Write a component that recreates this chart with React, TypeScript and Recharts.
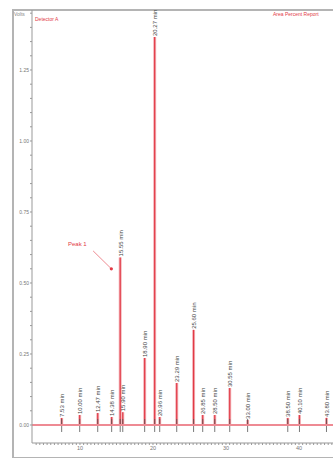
import React from "react";
import {
  ComposedChart,
  Bar,
  XAxis,
  YAxis,
  ReferenceLine,
  ReferenceDot,
  LabelList,
} from "recharts";

// retention time (min) and height (V) of each integrated peak
const peakTimes = [7.53, 10.0, 12.47, 14.38, 15.55, 15.9, 18.9, 20.27, 20.96, 23.29, 25.6, 26.85, 28.5, 30.55, 33.0, 38.5, 40.1, 43.8];
const peakHeights = [0.025, 0.035, 0.042, 0.028, 0.59, 0.045, 0.236, 1.366, 0.028, 0.148, 0.335, 0.035, 0.035, 0.13, 0.018, 0.025, 0.035, 0.025];

const xLabelTicks = [10, 20, 30, 40];
const yLabelTicks = [0, 0.25, 0.5, 0.75, 1.0, 1.25];

const data = peakTimes.map((t, i) => ({
  t,
  v: peakHeights[i],
  label: `${t.toFixed(2)} min`,
}));

const xTicks = Array.from({ length: 86 }, (_, i) => 4 + i * 0.5);
const yTicks = Array.from({ length: 30 }, (_, i) => Math.round(i * 5) / 100);

const RED = "#e23a46";

const PeakShape = (props: any) => {
  const { x, y, width, height } = props;
  const cx = x + width / 2;
  const top = height >= 0 ? y : y + height;
  const bottom = height >= 0 ? y + height : y;
  return (
    <g>
      <line x1={cx} x2={cx} y1={top} y2={bottom} stroke="#f3b3b8" strokeWidth={3} />
      <line x1={cx} x2={cx} y1={top} y2={bottom} stroke={RED} strokeWidth={1.2} />
      <line x1={cx} x2={cx} y1={bottom - 6} y2={bottom + 7} stroke="#555" strokeWidth={0.8} />
    </g>
  );
};

const PeakLabel = (props: any) => {
  const { x, y, width, value } = props;
  const px = x + width / 2 + 2.5;
  const py = y - 1;
  return (
    <text
      x={px}
      y={py}
      transform={`rotate(-90 ${px} ${py})`}
      fontSize={6}
      fill="#444"
      fontFamily="Liberation Sans, Arial, sans-serif"
    >
      {value}
    </text>
  );
};

export default function App() {
  return (
    <div style={{ position: "absolute", left: 0, top: 0, width: 333, height: 458, overflow: "hidden", background: "#fff", fontFamily: "Liberation Sans, Arial, sans-serif" }}>
      <div style={{ position: "absolute", left: 12, top: 9, width: 340, height: 446, border: "2px solid #b4b4b4", borderRight: "none" }} />
      <div style={{ position: "absolute", left: 14, top: 11, fontSize: 5, color: "#888" }}>Volts</div>
      <div style={{ position: "absolute", left: 35, top: 16, fontSize: 5, color: RED }}>Detector A</div>
      <div style={{ position: "absolute", left: 273, top: 11, fontSize: 5, color: RED, whiteSpace: "nowrap" }}>Area Percent Report</div>
      <div style={{ position: "absolute", left: 68, top: 241, fontSize: 6, color: RED }}>Peak 1</div>
      <div style={{ position: "absolute", left: 0, top: 0 }}>
        <ComposedChart
          width={350}
          height={458}
          data={data}
          margin={{ top: 10, right: 5, bottom: 2, left: 0 }}
        >
          <XAxis
            dataKey="t"
            type="number"
            domain={[3.43, 46.3]}
            allowDataOverflow
            ticks={xTicks}
            interval={0}
            tickFormatter={(v: number) => (xLabelTicks.includes(v) ? String(v) : "")}
            tick={{ fontSize: 5.5, fill: "#777" }}
            tickSize={2}
            tickMargin={1}
            height={13}
            stroke="#999"
          />
          <YAxis
            type="number"
            domain={[-0.0634, 1.4612]}
            allowDataOverflow
            ticks={yTicks}
            interval={0}
            tickFormatter={(v: number) => (yLabelTicks.includes(v) ? v.toFixed(2) : "")}
            tick={{ fontSize: 5, fill: "#777" }}
            tickSize={2}
            tickMargin={1}
            width={32}
            stroke="#999"
          />
          <ReferenceLine y={0} stroke="#ee8a93" strokeWidth={2} />
          <Bar dataKey="v" barSize={2} shape={PeakShape} isAnimationActive={false}>
            <LabelList dataKey="label" content={PeakLabel} />
          </Bar>
          <ReferenceLine
            segment={[{ x: 11.8, y: 0.613 }, { x: 14.3, y: 0.55 }]}
            stroke={RED}
            strokeWidth={0.6}
          />
          <ReferenceDot x={14.3} y={0.55} r={1.6} fill={RED} stroke="none" />
        </ComposedChart>
      </div>
    </div>
  );
}
